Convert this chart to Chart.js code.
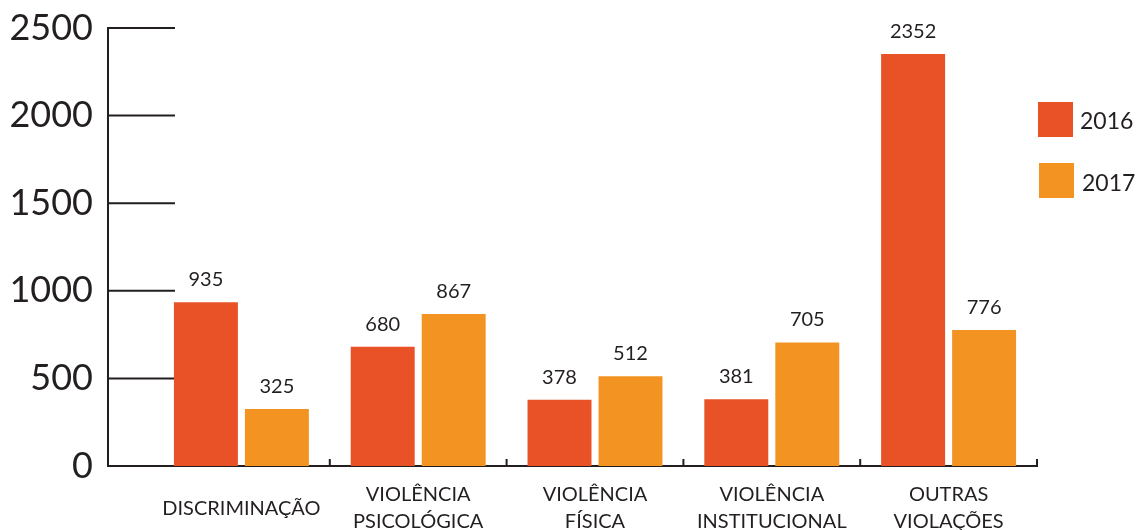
<!DOCTYPE html>
<html lang="pt">
<head>
<meta charset="utf-8">
<title>Violações 2016–2017</title>
<script src="https://cdn.jsdelivr.net/npm/chart.js@4/dist/chart.umd.min.js"></script>
<style>
  html, body { margin: 0; padding: 0; background: #ffffff; }
  #wrap { width: 1138px; height: 530px; position: relative; }
</style>
</head>
<body>
<div id="wrap"><canvas id="chart" width="1138" height="530"></canvas></div>
<script>
// Categories (multi-line labels) and yearly counts
const categories = [
  ['DISCRIMINAÇÃO'],
  ['VIOLÊNCIA', 'PSICOLÓGICA'],
  ['VIOLÊNCIA', 'FÍSICA'],
  ['VIOLÊNCIA', 'INSTITUCIONAL'],
  ['OUTRAS', 'VIOLAÇÕES']
];
const seriesNames = ['2016', '2017'];
const values2016 = [935, 680, 378, 381, 2352];
const values2017 = [325, 867, 512, 705, 776];
const yTicks = [0, 500, 1000, 1500, 2000, 2500];

const INK = '#231f20';
const COLORS = ['#e85226', '#f39322'];
const FONT = 'Lato, "Open Sans", sans-serif';

// Axis lines, short stubs at the y ticks and small marks between categories
const axisPlugin = {
  id: 'axisDecor',
  beforeDatasetsDraw(chart) {
    const { ctx, chartArea, scales } = chart;
    const y = scales.y, x = scales.x;
    const axisX = 108;
    const stubEnd = 175;
    const base = y.getPixelForValue(0);
    ctx.save();
    ctx.strokeStyle = INK;
    ctx.lineWidth = 2;
    ctx.beginPath();
    ctx.moveTo(axisX, y.getPixelForValue(yTicks[yTicks.length - 1]) - 1);
    ctx.lineTo(axisX, base + 1);
    yTicks.forEach(v => {
      if (v === 0) return;
      const py = y.getPixelForValue(v);
      ctx.moveTo(axisX, py);
      ctx.lineTo(stubEnd, py);
    });
    ctx.moveTo(axisX - 1, base);
    ctx.lineTo(chartArea.right + 1, base);
    for (let i = 1; i <= categories.length; i++) {
      const px = i < categories.length
        ? (x.getPixelForValue(i - 1) + x.getPixelForValue(i)) / 2
        : chartArea.right;
      ctx.moveTo(px, base);
      ctx.lineTo(px, base - 7);
    }
    ctx.stroke();
    ctx.restore();
  },
  afterDatasetsDraw(chart) {
    // value labels above each bar
    const { ctx } = chart;
    ctx.save();
    ctx.fillStyle = INK;
    ctx.font = '20px ' + FONT;
    ctx.textAlign = 'center';
    ctx.textBaseline = 'alphabetic';
    chart.data.datasets.forEach((ds, di) => {
      chart.getDatasetMeta(di).data.forEach((bar, i) => {
        ctx.fillText(String(ds.data[i]), bar.x, bar.y - 16);
      });
    });
    ctx.restore();
  },
  afterDraw(chart) {
    // legend: coloured squares with the year beside them
    const { ctx } = chart;
    const items = [
      { box: [1038, 102], text: [1080, 122] },
      { box: [1039, 163], text: [1082, 184] }
    ];
    ctx.save();
    ctx.font = '23px ' + FONT;
    ctx.textAlign = 'left';
    ctx.textBaseline = 'middle';
    chart.data.datasets.forEach((ds, i) => {
      const it = items[i];
      ctx.fillStyle = ds.backgroundColor;
      ctx.fillRect(it.box[0], it.box[1], 35, 35);
      ctx.fillStyle = INK;
      ctx.fillText(ds.label, it.text[0], it.text[1]);
    });
    ctx.restore();
  }
};

new Chart(document.getElementById('chart'), {
  type: 'bar',
  data: {
    labels: categories,
    datasets: [
      { label: seriesNames[0], data: values2016, backgroundColor: COLORS[0] },
      { label: seriesNames[1], data: values2017, backgroundColor: COLORS[1] }
    ]
  },
  options: {
    responsive: false,
    animation: false,
    events: [],
    layout: { padding: { top: 28, right: 101, left: 0, bottom: 0 } },
    datasets: { bar: { categoryPercentage: 0.803, barPercentage: 0.901 } },
    plugins: {
      legend: { display: false },
      tooltip: { enabled: false }
    },
    scales: {
      x: {
        offset: true,
        grid: { display: false, drawTicks: false },
        border: { display: false },
        afterFit(s) {
          s.height = 64;
          s.paddingLeft = 0; s.paddingRight = 0;
        },
        ticks: {
          color: INK,
          font: { family: FONT, size: 20, lineHeight: 1.32 },
          padding: 29,
          crossAlign: 'center',
          maxRotation: 0,
          autoSkip: false
        }
      },
      y: {
        min: 0,
        max: 2500,
        afterFit(s) {
          s.width = 153;
          s.paddingTop = 0; s.paddingBottom = 0;
        },
        afterBuildTicks(s) { s.ticks = yTicks.map(v => ({ value: v })); },
        grid: { display: false, drawTicks: false },
        border: { display: false },
        ticks: {
          color: INK,
          font: { family: FONT, size: 36 },
          padding: 60,
          callback: (v) => String(v)
        }
      }
    }
  },
  plugins: [axisPlugin]
});
</script>
</body>
</html>
